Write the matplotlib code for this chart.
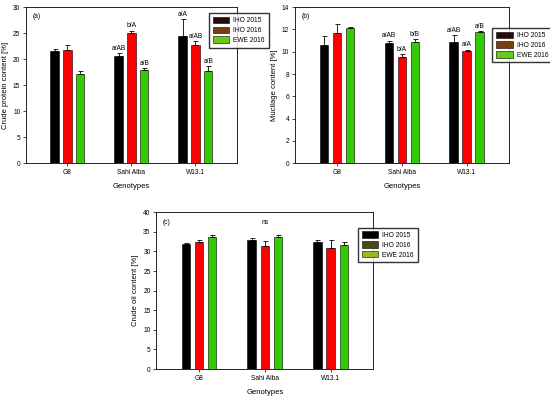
import numpy as np
import matplotlib.pyplot as plt
from matplotlib.patches import Patch

plt.rcParams['font.family'] = ['Liberation Sans', 'DejaVu Sans']

genotypes = ['G8', 'Sahi Alba', 'W13.1']
series = ['IHO 2015', 'IHO 2016', 'EWE 2016']

# crude protein content [%]
protein = [[21.5, 20.6, 24.5], [21.8, 25.0, 22.8], [17.2, 18.0, 17.8]]
protein_err = [[0.5, 0.5, 3.2], [0.9, 0.5, 0.7], [0.6, 0.3, 0.9]]
protein_lbl = [['', 'a/AB', 'a/A'], ['', 'b/A', 'a/AB'], ['', 'a/B', 'a/B']]

# mucilage content [%]
mucilage = [[10.6, 10.75, 10.85], [11.7, 9.5, 10.1], [12.15, 10.9, 11.8]]
mucilage_err = [[0.85, 0.25, 0.65], [0.8, 0.3, 0.1], [0.05, 0.25, 0.05]]
mucilage_lbl = [['', 'a/AB', 'a/AB'], ['', 'b/A', 'a/A'], ['', 'b/B', 'a/B']]

# crude oil content [%]
oil = [[31.9, 32.8, 32.4], [32.4, 31.4, 31.0], [33.6, 33.8, 31.6]]
oil_err = [[0.3, 0.6, 0.4], [0.4, 1.2, 2.0], [0.6, 0.5, 0.9]]

bar_colors = ['#000000', '#ff0000', '#33cc00']
fs = 4.8

fig = plt.figure(figsize=(5.5, 3.99), dpi=100)


def panel(rect, vals, errs, lbls, ylim, ystep, ylabel, tag, leg_colors, leg_pos):
    ax = fig.add_axes(rect)
    x = np.arange(1, 4)
    w = 0.13
    for i in range(3):
        xi = x + (i - 1) * 0.2
        ax.bar(xi, vals[i], w, color=bar_colors[i], edgecolor='black', linewidth=0.4)
        ax.errorbar(xi, vals[i], yerr=[[0, 0, 0], errs[i]], fmt='none',
                    ecolor='black', elinewidth=0.6, capsize=1.8, capthick=0.6)
        if lbls is not None:
            for j in range(3):
                if lbls[i][j]:
                    ax.text(xi[j], vals[i][j] + errs[i][j] + ylim * 0.008, lbls[i][j],
                            ha='center', va='bottom', fontsize=fs)
    ax.set_xlim(0.35, 3.65)
    ax.set_ylim(0, ylim)
    ax.set_yticks(np.arange(0, ylim + 0.1, ystep))
    ax.set_xticks(x)
    ax.set_xticklabels(genotypes)
    ax.tick_params(labelsize=fs, length=2, width=0.5, pad=2)
    ax.set_xlabel('Genotypes', fontsize=5.5, labelpad=5.5)
    ax.set_ylabel(ylabel, fontsize=5.5, labelpad=3)
    for s in ax.spines.values():
        s.set_linewidth(0.6)
    ax.text(0.03, 0.96, tag, transform=ax.transAxes, fontsize=fs, va='top')
    handles = [Patch(facecolor=c, edgecolor='black', linewidth=0.4) for c in leg_colors]
    fig.legend(handles, series, loc='upper left', bbox_to_anchor=leg_pos,
               fontsize=fs, frameon=True, fancybox=False, edgecolor='black',
               handlelength=2.5, handleheight=1.1, borderpad=0.55, labelspacing=0.35,
               handletextpad=0.6, borderaxespad=0)
    return ax


panel([0.047, 0.591, 0.384, 0.391], protein, protein_err, protein_lbl, 30, 5,
      'Crude protein content [%]', '(a)', ['#2a0a0a', '#7a3d10', '#66cc11'], (0.38, 0.967))
panel([0.536, 0.591, 0.389, 0.391], mucilage, mucilage_err, mucilage_lbl, 14, 2,
      'Mucilage content [%]', '(b)', ['#2a0a0a', '#7a3d10', '#66cc11'], (0.895, 0.93))
ax = panel([0.284, 0.075, 0.395, 0.393], oil, oil_err, None, 40, 5,
           'Crude oil content [%]', '(c)', ['#000000', '#4a4a14', '#99bb22'], (0.651, 0.429))
ax.text(2, 36.5, 'ns', ha='center', va='bottom', fontsize=fs)

fig.savefig('out.png', dpi=100)
